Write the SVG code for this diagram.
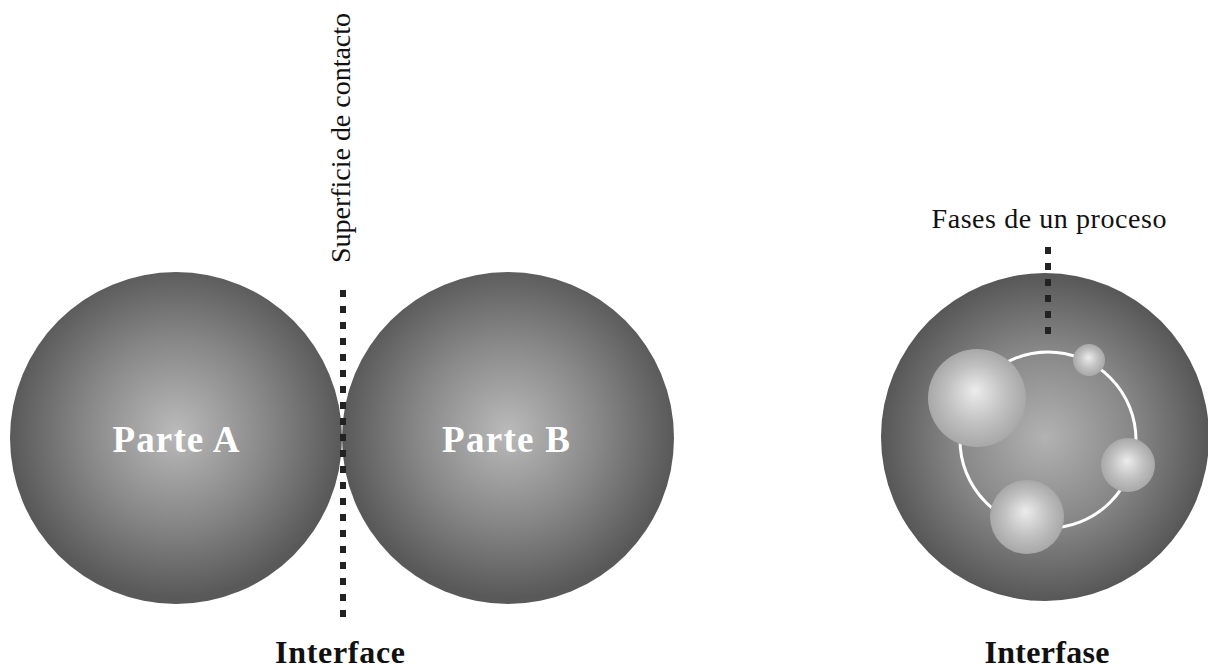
<svg xmlns="http://www.w3.org/2000/svg" width="1208" height="670" viewBox="0 0 1208 670">
  <defs>
    <radialGradient id="gBig" cx="0.5" cy="0.48" r="0.5">
      <stop offset="0" stop-color="#bababa"/>
      <stop offset="0.55" stop-color="#878787"/>
      <stop offset="1" stop-color="#595959"/>
    </radialGradient>
    <radialGradient id="gRight" cx="0.5" cy="0.5" r="0.5">
      <stop offset="0" stop-color="#b2b2b2"/>
      <stop offset="0.55" stop-color="#868686"/>
      <stop offset="1" stop-color="#575757"/>
    </radialGradient>
    <radialGradient id="gSphere" cx="0.5" cy="0.5" r="0.5" fx="0.48" fy="0.42">
      <stop offset="0" stop-color="#ececec"/>
      <stop offset="0.6" stop-color="#c0c0c0"/>
      <stop offset="1" stop-color="#a8a8a8"/>
    </radialGradient>
  </defs>
  <style>
    .dots { stroke: #222; stroke-width: 6; stroke-dasharray: 7 9; fill: none; }
    .lbl { font-family: "Liberation Serif", "Times New Roman", serif; fill: #111; }
    .bold { font-weight: bold; }
    .inner { font-family: "Liberation Serif", "Times New Roman", serif; font-weight: bold; fill: #ffffff; font-size: 37px; }
  </style>
  <rect width="1208" height="670" fill="#ffffff"/>

  <g id="parte-a">
    <circle cx="176" cy="438" r="166" fill="url(#gBig)"/>
    <text class="inner" x="176" y="452" text-anchor="middle" textLength="127">Parte A</text>
  </g>
  <g id="parte-b">
    <circle cx="508" cy="438" r="166" fill="url(#gBig)"/>
    <text class="inner" x="506" y="452" text-anchor="middle" textLength="128">Parte B</text>
  </g>

  <g id="interfase-node">
    <circle cx="1045" cy="437" r="164" fill="url(#gRight)"/>
    <circle cx="1048" cy="440" r="88" fill="none" stroke="#ffffff" stroke-width="3"/>
    <circle cx="977" cy="398" r="49" fill="url(#gSphere)"/>
    <circle cx="1089" cy="360" r="16" fill="url(#gSphere)"/>
    <circle cx="1128" cy="465" r="27" fill="url(#gSphere)"/>
    <circle cx="1027" cy="517" r="37" fill="url(#gSphere)"/>
  </g>

  <g id="connectors">
    <line class="dots" x1="343" y1="290" x2="343" y2="622"/>
    <line class="dots" x1="1048" y1="247" x2="1048" y2="336"/>
  </g>

  <g id="labels">
    <text class="lbl" transform="translate(350,138) rotate(-90)" x="0" y="0" text-anchor="middle" font-size="28" textLength="250">Superficie de contacto</text>
    <text class="lbl" x="1049" y="228" text-anchor="middle" font-size="28" textLength="235">Fases de un proceso</text>
    <text class="lbl bold" x="340" y="663" text-anchor="middle" font-size="32" textLength="130">Interface</text>
    <text class="lbl bold" x="1047" y="663" text-anchor="middle" font-size="32" textLength="125">Interfase</text>
  </g>
</svg>
